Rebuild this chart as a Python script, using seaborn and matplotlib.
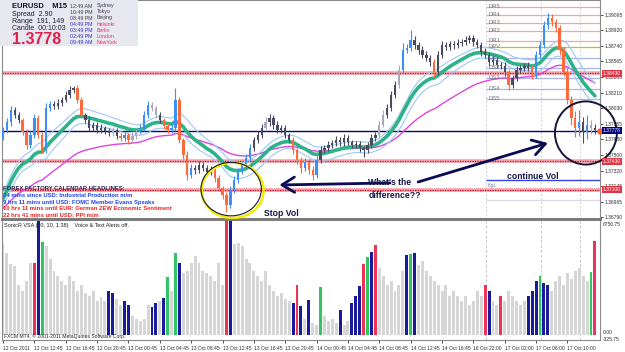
import numpy as np
import pandas as pd
import matplotlib
matplotlib.use("Agg")
import matplotlib.pyplot as plt
from matplotlib.patches import Ellipse, Rectangle
import matplotlib.transforms as mtransforms
import seaborn as sns

# ---------------- data ----------------
closes = [
    1.37784, 1.37875, 1.38012, 1.37955, 1.37898, 1.37761, 1.37613, 1.37727, 1.37921, 1.37727,
    1.37556, 1.38035, 1.38080, 1.38058, 1.38092, 1.38126, 1.38183, 1.38240, 1.38263, 1.38126,
    1.37955, 1.37898, 1.37807, 1.37841, 1.37784, 1.37807, 1.37773, 1.37750, 1.37784, 1.37716,
    1.37693, 1.37727, 1.37670, 1.37716, 1.37761, 1.37807, 1.37955, 1.38069, 1.38035, 1.37955,
    1.37898, 1.37830, 1.37784, 1.37807, 1.38126, 1.37670, 1.37499, 1.37271, 1.37351, 1.37328,
    1.37385, 1.37351, 1.37305, 1.37328, 1.37237, 1.37123, 1.37043, 1.36929, 1.37100, 1.37214,
    1.37305, 1.37385, 1.37465, 1.37579, 1.37670, 1.37727, 1.37807, 1.37875, 1.37921, 1.37841,
    1.37784, 1.37807, 1.37727, 1.37670, 1.37556, 1.37442, 1.37351, 1.37419, 1.37328, 1.37271,
    1.37442, 1.37556, 1.37579, 1.37613, 1.37636, 1.37670, 1.37647, 1.37693, 1.37647, 1.37613,
    1.37624, 1.37579, 1.37556, 1.37613, 1.37693, 1.37727, 1.37841, 1.37955, 1.38035, 1.38183,
    1.38297, 1.38468, 1.38696, 1.38719, 1.38810, 1.38753, 1.38696, 1.38639, 1.38605, 1.38559,
    1.38445, 1.38639, 1.38753, 1.38730, 1.38764, 1.38753, 1.38776, 1.38787, 1.38810, 1.38833,
    1.38787, 1.38753, 1.38673, 1.38639, 1.38559, 1.38582, 1.38525, 1.38514, 1.38445, 1.38297,
    1.38377, 1.38468, 1.38491, 1.38514, 1.38491, 1.38411, 1.38639, 1.38753, 1.38981, 1.39061,
    1.39015, 1.38947, 1.38696, 1.38445, 1.38126, 1.37921, 1.37807, 1.37875, 1.37761, 1.37841,
    1.37807, 1.37784,
]
first_open = 1.37700
wick_up = [
    3, 4, 5, 3, 3, 2, 3, 4, 5, 3,   3, 6, 4, 3, 4, 3, 4, 5, 2, 3,
    3, 2, 4, 3, 3, 4, 2, 3, 3, 2,   3, 3, 2, 4, 3, 4, 5, 4, 3, 2,
    3, 2, 3, 4, 14, 3, 2, 4, 5, 3,  4, 3, 3, 4, 2, 3, 2, 3, 4, 5,
    4, 3, 5, 4, 3, 4, 5, 6, 5, 3,   4, 3, 3, 2, 3, 2, 3, 4, 3, 4,
    5, 4, 3, 4, 3, 5, 3, 4, 3, 2,   3, 4, 2, 3, 4, 3, 5, 6, 4, 5,
    4, 6, 8, 5, 11, 4, 3, 5, 4, 3,  3, 5, 4, 3, 4, 3, 4, 3, 4, 3,
    3, 4, 3, 5, 3, 4, 3, 3, 4, 3,   3, 4, 3, 3, 4, 3, 5, 4, 5, 6,
    5, 4, 3, 3, 4, 5, 8, 14, 6, 11, 6, 4,
]
wick_dn = [
    3, 3, 4, 3, 4, 3, 5, 3, 3, 4,   3, 4, 3, 4, 3, 3, 2, 3, 3, 4,
    3, 4, 3, 3, 4, 3, 3, 4, 3, 3,   4, 3, 5, 3, 3, 2, 3, 3, 4, 3,
    3, 4, 3, 3, 3, 4, 5, 6, 4, 5,   3, 4, 3, 4, 5, 4, 5, 8, 4, 3,
    3, 2, 3, 3, 3, 4, 3, 3, 4, 5,   3, 4, 3, 4, 5, 5, 6, 4, 5, 6,
    3, 3, 4, 3, 4, 3, 5, 4, 3, 4,   4, 5, 8, 4, 3, 3, 3, 2, 3, 4,
    3, 4, 3, 3, 4, 5, 4, 3, 4, 5,   6, 3, 4, 3, 3, 4, 3, 3, 3, 3,
    4, 3, 4, 3, 5, 3, 4, 4, 5, 6,   4, 3, 3, 4, 3, 5, 4, 3, 3, 4,
    4, 5, 6, 5, 5, 8, 10, 9, 12, 8, 7, 5,
]
candle_codes = ("bbbddrrbbr" "rbbddddddr" "rdddddddgd" "rbrggbbbgg" "drrbbrrrbd"
                "ddddrrrrbb" "bbbbdddgdd" "ddddrrrbrr" "bddddddddd" "ddddddggdd"
                "dgbbbddddd" "rddddddddd" "dddddddddr" "dddddrbbbb" "rrrrrrrbdb" "gd")

volumes = [
    5470, 4880, 4170, 4050, 2920, 2620, 3210, 4280, 4280, 6900,
    5530, 5240, 4520, 3810, 3510, 3210, 2920, 3510, 3210, 2620,
    2920, 2500, 2320, 2620, 2020, 2260, 2020, 2620, 2500, 2140,
    1730, 2020, 1730, 1130, 950, 830, 950, 1730, 1610, 1850,
    2020, 2200, 3450, 2620, 4880, 4230, 3690, 3810, 4280, 4700,
    4280, 3810, 3690, 3510, 3210, 4280, 2920, 6900, 6900, 5360,
    5470, 5240, 4520, 4280, 3810, 3510, 3210, 3810, 2920, 2620,
    2320, 2500, 2140, 2020, 1850, 2920, 1670, 950, 2080, 710,
    540, 2800, 1130, 830, 950, 710, 1430, 540, 830, 1850,
    2320, 2860, 4170, 4640, 4940, 5300, 3930, 3510, 2920, 3210,
    2620, 2920, 3810, 4760, 4820, 4880, 4110, 4400, 3810, 3510,
    3210, 2920, 2620, 2920, 2320, 2620, 2320, 2020, 2320, 1730,
    2020, 2620, 2320, 2920, 2620, 2020, 1730, 2320, 2020, 2620,
    2320, 2020, 1730, 2020, 2320, 2620, 3210, 3510, 3090, 2920,
    2620, 3210, 3510, 2920, 3690, 3330, 3810, 3930, 3510, 3210,
    3750, 5590,
]
vol_flags = {8: "red", 9: "navy", 10: "green", 27: "navy", 28: "navy", 31: "navy", 32: "navy",
             38: "navy", 39: "navy", 41: "navy", 42: "green", 44: "green", 45: "navy",
             57: "red", 58: "navy", 74: "navy", 75: "red", 76: "navy", 78: "navy", 81: "green",
             86: "navy", 89: "navy", 90: "navy", 91: "navy", 92: "red", 93: "green", 94: "navy",
             95: "red", 103: "navy", 104: "green", 105: "navy", 123: "red", 124: "navy",
             127: "red", 134: "navy", 135: "navy", 136: "navy", 137: "green", 138: "navy",
             139: "navy", 150: "green", 151: "red"}

tick_labels = ["12 Oct 2011", "12 Oct 12:45", "12 Oct 16:45", "12 Oct 20:45", "13 Oct 00:45",
               "13 Oct 04:45", "13 Oct 08:45", "13 Oct 12:45", "13 Oct 16:45", "13 Oct 20:45",
               "14 Oct 00:45", "14 Oct 04:45", "14 Oct 08:45", "14 Oct 12:45", "14 Oct 16:45",
               "16 Oct 22:00", "17 Oct 02:00", "17 Oct 06:00", "17 Oct 10:00"]
tick_every = 8
price_ticks = [1.39095, 1.38920, 1.38740, 1.38565, 1.38385, 1.38210, 1.38030, 1.37855,
               1.37680, 1.37500, 1.37320, 1.37145, 1.36965, 1.36790]
red_levels = [1.38430, 1.37430, 1.37100]
current_price = 1.37778
pivot_names = ["DR5", "DR4", "DR3", "DR2", "DR1", "DPV", "DS1", "DS2", "DS3", "DS4", "DS5"]
pivot_levels = [1.39186, 1.39095, 1.39004, 1.38913, 1.38799, 1.38730, 1.38605, 1.38491,
                1.38377, 1.38251, 1.38137]
continue_level = 1.37214
faint_level = 1.36986
session_marks = [123.2, 137.2, 147.2]
ema_seed = 1.3690
slow_seed = 1.3685
vol_top, vol_bottom = 6756.75, -325.75
headlines = [("FOREX FACTORY CALENDAR HEADLINES:", "#202050"),
             ("34 mins since USD: Industrial Production m/m", "#2244ee"),
             ("9 hrs 11 mins until USD: FOMC Member Evans Speaks", "#2244ee"),
             ("10 hrs 11 mins until EUR: German ZEW Economic Sentiment", "#ee2222"),
             ("22 hrs 41 mins until USD: PPI m/m", "#ee2222")]
clock_rows = [("12:49 AM", "Sydney"), ("10:49 PM", "Tokyo"), ("08:49 PM", "Beijing"),
              ("04:49 PM", "Helsinki"), ("03:49 PM", "Berlin"), ("02:49 PM", "London"),
              ("09:49 AM", "NewYork")]

# ---------------- derived ----------------
n = len(closes)
idx = np.arange(n)
c = np.array(closes)
o = np.array([first_open] + closes[:-1])
hi = np.maximum(o, c) + np.array(wick_up) * 1e-4
lo = np.minimum(o, c) - np.array(wick_dn) * 1e-4

def ema(values, seed, span):
    s = pd.Series([seed] + list(values))
    return s.ewm(span=span, adjust=False).mean().iloc[1:].to_numpy()

dragon_c = ema(c, ema_seed, 17)
dragon_h = ema(hi, ema_seed + 0.0008, 17)
dragon_l = ema(lo, ema_seed - 0.0008, 17)
slow = ema(c, slow_seed, 45)

code_col = {"b": "#3d8ff5", "r": "#ff6a3d", "d": "#4b4b5f", "g": "#a9a9bb"}
ccolors = [code_col[k] for k in candle_codes]
vol_cat = [vol_flags.get(i, "gray") for i in range(n)]

# ---------------- figure ----------------
sns.set_theme(style="white")
plt.rcParams["font.family"] = ["Liberation Sans", "DejaVu Sans"]
W, H = 625, 352
fig = plt.figure(figsize=(W / 100, H / 100), dpi=100)
fig.patch.set_facecolor("white")

def fx(px):
    return px / W

def fy(py):
    return 1 - py / H

RIGHT = 600
ax_p = fig.add_axes([fx(2), fy(219), fx(RIGHT) - fx(2), fy(0) - fy(219)])
ax_v = fig.add_axes([fx(2), fy(340), fx(RIGHT) - fx(2), fy(221) - fy(340)])

x_lo, x_hi = -0.26, 152.3
p_lo, p_hi = 1.36769, 1.39266

for ax in (ax_p, ax_v):
    ax.set_facecolor("white")
    ax.set_xlim(x_lo, x_hi)
    for sp in ax.spines.values():
        sp.set_color("#8a8a8a")
        sp.set_linewidth(0.8)

# session separators
for m in session_marks:
    ax_p.axvline(m, color="#cfcfd8", lw=0.7, ls=(0, (2, 2)), zorder=0.5)
    ax_v.axvline(m, color="#c8c8c8", lw=0.7, ls=(0, (3, 2)), zorder=0.5)

# pivot lines
piv_col = {"R": "#f4a4a4", "P": "#c8c000", "S": "#aab4ee"}
for name, lvl in zip(pivot_names, pivot_levels):
    col = piv_col["P"] if name == "DPV" else piv_col[name[1]]
    ax_p.hlines(lvl, session_marks[0], x_hi, colors=col, lw=0.9, zorder=1)
    ax_p.text(session_marks[0] + 0.6, lvl + 0.00008, name, fontsize=4.2, color="#707080",
              va="center", ha="left", zorder=6)
ax_p.hlines(faint_level, session_marks[0], x_hi, colors="#d8d8e8", lw=0.8, zorder=1)

# full-width levels
for lvl in red_levels:
    ax_p.axhline(lvl, color="#f3a5ad", lw=2.6, zorder=1)
    ax_p.axhline(lvl, color="#cc0022", lw=0.9, ls=(0, (1, 1)), zorder=1.1)
ax_p.axhline(current_price, color="#000080", lw=1.0, zorder=1.2)
ax_p.hlines(continue_level, session_marks[0], x_hi, colors="#3344dd", lw=1.0, zorder=1.2)

# moving averages
sns.lineplot(x=idx, y=slow, ax=ax_p, color="#dd44dd", lw=1.0, zorder=2)
sns.lineplot(x=idx, y=dragon_h, ax=ax_p, color="#9cc8f8", lw=0.8, zorder=2)
sns.lineplot(x=idx, y=dragon_l, ax=ax_p, color="#9cc8f8", lw=0.8, zorder=2)
sns.lineplot(x=idx, y=dragon_c, ax=ax_p, color="#2db38a", lw=2.6, zorder=2.1)

# candles
ax_p.vlines(idx, lo, hi, colors=ccolors, lw=0.8, zorder=3)
body = np.maximum(np.abs(c - o), 0.00005)
ax_p.bar(idx, body, bottom=np.minimum(o, c), width=0.6, color=ccolors, linewidth=0, zorder=3.1)
ax_p.plot([152.3], [current_price], "o", color="#ff5a2a", ms=3.6, clip_on=False, zorder=6)

ax_p.set_ylim(p_lo, p_hi)
ax_p.set_xticks([])
ax_p.yaxis.tick_right()
ax_p.set_yticks(price_ticks)
ax_p.set_yticklabels([f"{t:.5f}" for t in price_ticks])
ax_p.tick_params(axis="y", labelsize=3.6, length=2, width=0.6, pad=1.2, colors="#303030",
                 right=True, left=False)
ax_p.set_ylabel("")
ax_p.spines["bottom"].set_linewidth(2.2)
ax_p.spines["bottom"].set_color("#7c7c7c")

# price boxes on the right axis
trans = mtransforms.blended_transform_factory(ax_p.transAxes, ax_p.transData)
for lvl in red_levels:
    ax_p.text(1.0045, lvl, f"{lvl:.5f}", transform=trans, fontsize=3.6, color="white",
              va="center", ha="left", clip_on=False, zorder=7,
              bbox=dict(boxstyle="square,pad=0.2", fc="#e03545", ec="none"))
ax_p.text(1.0045, current_price, f"{current_price:.5f}", transform=trans, fontsize=3.6,
          color="white", va="center", ha="left", clip_on=False, zorder=7,
          bbox=dict(boxstyle="square,pad=0.2", fc="#000080", ec="none"))

# hand-drawn annotations
ax_p.add_patch(Ellipse((58.6, 1.37095), 15.8, 0.0063, fill=False, ec="#f2ec00", lw=1.8, zorder=5))
ax_p.add_patch(Ellipse((58.2, 1.37110), 15.4, 0.0061, fill=False, ec="#151535", lw=0.8, zorder=5.1))
ax_p.add_patch(Ellipse((148.7, 1.37750), 15.8, 0.0072, fill=False, ec="#151535", lw=1.4,
                       zorder=5, clip_on=False))
arrow_kw = dict(arrowstyle="->,head_length=0.9,head_width=0.55", lw=2.0, color="#0a0a55",
                mutation_scale=10, shrinkA=0, shrinkB=0)
ax_p.annotate("", xy=(70.5, 1.37157), xytext=(98.7, 1.37180), arrowprops=arrow_kw, zorder=5)
ax_p.annotate("", xy=(139.0, 1.37635), xytext=(105.9, 1.37191), arrowprops=arrow_kw, zorder=5)
ax_p.text(93.0, 1.37190, "What's the", fontsize=6.2, fontweight="bold", color="#15154a",
          va="center", ha="left", zorder=6)
ax_p.text(93.3, 1.37040, "difference??", fontsize=6.2, fontweight="bold", color="#15154a",
          va="center", ha="left", zorder=6)
ax_p.text(66.6, 1.36835, "Stop Vol", fontsize=6.2, fontweight="bold", color="#15154a",
          va="center", ha="left", zorder=6)
ax_p.text(128.6, 1.37250, "continue Vol", fontsize=6.2, fontweight="bold", color="#15154a",
          va="center", ha="left", zorder=6)
ax_p.text(123.6, 1.37150, "KgL", fontsize=3.8, color="#8080a0", va="center", ha="left", zorder=6)

# volume panel
palette = {"gray": "#d6d6d6", "navy": "#1a1a9c", "green": "#2fc765", "red": "#ee3356"}
sns.barplot(x=idx, y=volumes, hue=vol_cat, palette=palette, dodge=False, native_scale=True,
            width=0.75, errorbar=None, legend=False, saturation=1, linewidth=0, ax=ax_v)
ax_v.set_xlim(x_lo, x_hi)
ax_v.set_ylim(vol_bottom, vol_top)
ax_v.set_yticks([])
ax_v.set_ylabel("")
ax_v.set_xticks(idx[::tick_every][:len(tick_labels)])
ax_v.set_xticklabels(tick_labels, ha="left")
ax_v.tick_params(axis="x", labelsize=3.6, length=2.5, width=0.6, pad=1.5, colors="#303030",
                 bottom=True)
ax_v.spines["top"].set_visible(False)

# right-side indicator values
fig.text(fx(602.5), fy(224), "6756.75", fontsize=3.6, color="#303030", va="center", ha="left")
fig.text(fx(602.5), fy(333), "0.00", fontsize=3.6, color="#303030", va="center", ha="left")
fig.text(fx(602.5), fy(339.5), "-325.75", fontsize=3.6, color="#303030", va="center", ha="left")

# indicator header / copyright
fig.text(fx(4), fy(226), "SonicR VSA (20, 10, 1.38)    Voice & Text Alerts off.", fontsize=4.0,
         color="#202020", va="center", ha="left")
fig.text(fx(4), fy(336.5), "FXCM MT4, \u00a9 2001-2011 MetaQuotes Software Corp.", fontsize=3.6,
         color="#202020", va="center", ha="left")

# news headlines
for k, (txt, col) in enumerate(headlines):
    fig.text(fx(3), fy(188.5 + 6.8 * k), txt, fontsize=4.2, color=col, va="center", ha="left",
             fontweight="bold", zorder=10)

# info box top-left
fig.patches.append(Rectangle((fx(0), fy(46)), fx(138), fy(0) - fy(46), transform=fig.transFigure,
                             fc="#e7e7ef", ec="none", zorder=8))
fig.text(fx(12), fy(6), "EURUSD    M15", fontsize=5.4, fontweight="bold", color="#101030",
         va="center", ha="left", zorder=10)
for k, txt in enumerate(["Spread  2.90", "Range  191, 149", "Candle  00:10:03"]):
    fig.text(fx(12), fy(14.5 + 7 * k), txt, fontsize=5.0, color="#202030", va="center",
             ha="left", zorder=10)
fig.text(fx(12), fy(39.5), "1.3778", fontsize=11.5, fontweight="bold", color="#e0204a",
         va="center", ha="left", zorder=10)
for k, (tm, city) in enumerate(clock_rows):
    tcol = "#404050" if k < 3 else "#3333cc"
    ccol = "#404050" if k < 3 else "#ee3377"
    fig.text(fx(70), fy(6 + 6 * k), tm, fontsize=3.8, color=tcol, va="center", ha="left", zorder=10)
    fig.text(fx(97), fy(6 + 6 * k), city, fontsize=3.8, color=ccol, va="center", ha="left", zorder=10)

fig.savefig("out.png", dpi=100, facecolor="white")
